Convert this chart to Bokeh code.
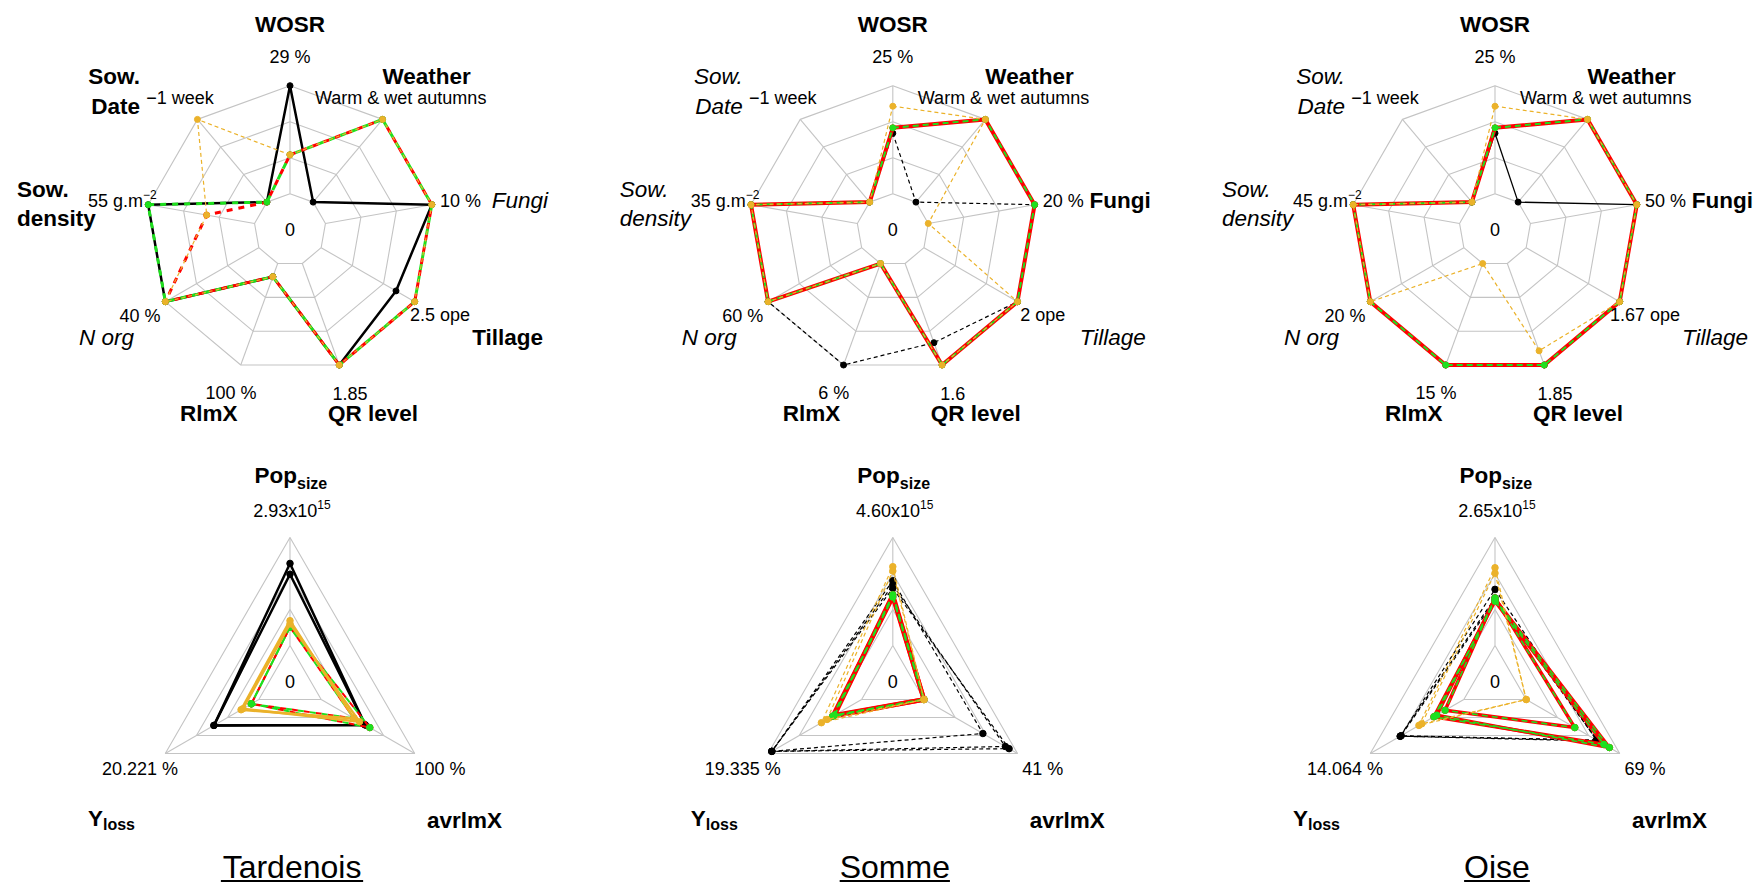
import math
from bokeh.plotting import figure
from bokeh.models import Range1d
from bokeh.core.properties import value
from bokeh.embed import file_html
from bokeh.resources import INLINE

# ---------------- DATA ----------------
regions = ["Tardenois", "Somme", "Oise"]

top_axes = [["WOSR"], ["Weather"], ["Fungi"], ["Tillage"], ["QR level"], ["RlmX"],
            ["N org"], ["Sow.", "density"], ["Sow.", "Date"]]

tard_top_max = ["29 %", "Warm & wet autumns", "10 %", "2.5 ope", "1.85", "100 %", "40 %", "55 g.m", "\u22121 week"]
somme_top_max = ["25 %", "Warm & wet autumns", "20 %", "2 ope", "1.6", "6 %", "60 %", "35 g.m", "\u22121 week"]
oise_top_max = ["25 %", "Warm & wet autumns", "50 %", "1.67 ope", "1.85", "15 %", "20 %", "45 g.m", "\u22121 week"]
density_exp = "\u22122"

tard_top_style = ["bold", "bold", "italic", "bold", "bold", "bold", "italic", "bold", "bold"]
somme_top_style = ["bold", "bold", "bold", "italic", "bold", "bold", "italic", "italic", "italic"]
oise_top_style = ["bold", "bold", "bold", "italic", "bold", "bold", "italic", "italic", "italic"]

# values as fraction of each axis maximum (0 = centre)
tard_top_black = [1.00, 0.00, 1.00, 0.80, 1.00, 0.13, 1.00, 1.00, 0.00]
tard_top_red = [0.36, 1.00, 1.00, 1.00, 1.00, 0.13, 1.00, 0.45, 0.00]
tard_top_green = [0.36, 1.00, 1.00, 1.00, 1.00, 0.13, 1.00, 1.00, 0.00]
tard_top_orange = [0.36, 1.00, 1.00, 1.00, 1.00, 0.13, 1.00, 0.45, 1.00]

somme_top_black = [0.56, 0.00, 1.00, 1.00, 0.78, 1.00, 1.00, 1.00, 0.00]
somme_top_red = [0.61, 1.00, 1.00, 1.00, 1.00, 0.00, 1.00, 1.00, 0.00]
somme_top_green = [0.61, 1.00, 1.00, 1.00, 1.00, 0.00, 1.00, 1.00, 0.00]
somme_top_orange = [0.81, 1.00, 0.00, 1.00, 1.00, 0.00, 1.00, 1.00, 0.00]

oise_top_black = [0.56, 0.00, 1.00, 1.00, 1.00, 1.00, 1.00, 1.00, 0.00]
oise_top_red = [0.61, 1.00, 1.00, 1.00, 1.00, 1.00, 1.00, 1.00, 0.00]
oise_top_green = [0.61, 1.00, 1.00, 1.00, 1.00, 1.00, 1.00, 1.00, 0.00]
oise_top_orange = [0.81, 1.00, 1.00, 1.00, 0.86, 0.00, 1.00, 1.00, 0.00]

# bottom radar: Pop_size, avrlmX, Y_loss
tard_pop_max, tard_avr_max, tard_yl_max = "2.93x10", "100 %", "20.221 %"
somme_pop_max, somme_avr_max, somme_yl_max = "4.60x10", "41 %", "19.335 %"
oise_pop_max, oise_avr_max, oise_yl_max = "2.65x10", "69 %", "14.064 %"
pop_exp = "15"

tard_bot_black = [[0.76, 0.47, 0.48], [0.66, 0.47, 0.48]]
tard_bot_red = [[0.17, 0.52, 0.08], [0.17, 0.35, 0.08]]
tard_bot_green = [[0.17, 0.52, 0.08], [0.17, 0.35, 0.08]]
tard_bot_orange = [[0.23, 0.35, 0.19], [0.20, 0.41, 0.17]]

somme_bot_black = [[0.60, 0.63, 0.96], [0.56, 0.87, 0.96], [0.53, 0.91, 0.96]]
somme_bot_red = [[0.47, 0.00, 0.29], [0.45, 0.00, 0.31]]
somme_bot_green = [[0.47, 0.00, 0.29], [0.45, 0.00, 0.31]]
somme_bot_orange = [[0.73, 0.00, 0.43], [0.69, 0.00, 0.37]]

oise_bot_black = [[0.52, 0.75, 0.68], [0.44, 0.77, 0.68], [0.42, 0.76, 0.67]]
oise_bot_red = [[0.44, 0.52, 0.20], [0.41, 0.83, 0.32], [0.43, 0.89, 0.29]]
oise_bot_green = [[0.44, 0.52, 0.20], [0.41, 0.83, 0.32], [0.43, 0.89, 0.29]]
oise_bot_orange = [[0.72, 0.00, 0.48], [0.67, 0.00, 0.45]]

# ---------------- LAYOUT / STYLE ----------------
FONT = "Liberation Sans"
GRID = "#C4C4C4"
BLACK, RED, GREEN, ORANGE = "#000000", "#FF0000", "#1EE01E", "#EBB22A"
CX = {"Tardenois": 289.5, "Somme": 892.3, "Oise": 1494.5}
CY_TOP, CY_BOT, R, HOLE = 229.2, 681.0, 144.0, 0.25

p = figure(width=1757, height=885, x_range=Range1d(0, 1757), y_range=Range1d(885, 0),
           output_backend="svg", toolbar_location=None, min_border=0,
           x_axis_type=None, y_axis_type=None)
p.grid.visible = False
p.outline_line_color = None


def txt(x, y, s, size=18, style="normal", align="center", baseline="middle"):
    p.text(x=[x], y=[y], text=[s], text_font=value(FONT), text_font_size=value(f"{size}px"),
           text_font_style=value(style), text_align=value(align),
           text_baseline=value(baseline), text_color="black")


def pt(cx, cy, k, n, frac):
    th = math.pi / 2 - 2 * math.pi * k / n
    return cx + R * frac * math.cos(th), cy - R * frac * math.sin(th)


def grid(cx, cy, n):
    for f in [0.25, 0.5, 0.75, 1.0]:
        pts = [pt(cx, cy, k, n, f) for k in range(n)]
        pts.append(pts[0])
        p.line([a for a, b in pts], [b for a, b in pts], line_color=GRID, line_width=1.1)
    inner = [pt(cx, cy, k, n, HOLE) for k in range(n)]
    outer = [pt(cx, cy, k, n, 1.0) for k in range(n)]
    p.segment([a for a, b in inner], [b for a, b in inner], [a for a, b in outer], [b for a, b in outer],
              line_color=GRID, line_width=1.1)


def series(cx, cy, vals, color, width, dash="solid", offset=0, psize=6):
    n = len(vals)
    pts = [pt(cx, cy, k, n, HOLE + (1 - HOLE) * v) for k, v in enumerate(vals)]
    xs = [a for a, b in pts]
    ys = [b for a, b in pts]
    p.line(xs + [xs[0]], ys + [ys[0]], line_color=color, line_width=width, line_dash=dash,
           line_dash_offset=offset, line_join="round")
    p.scatter(xs, ys, size=psize, fill_color=color, line_color=color)


top_data = {
    "Tardenois": (tard_top_black, tard_top_red, tard_top_green, tard_top_orange, tard_top_max, tard_top_style),
    "Somme": (somme_top_black, somme_top_red, somme_top_green, somme_top_orange, somme_top_max, somme_top_style),
    "Oise": (oise_top_black, oise_top_red, oise_top_green, oise_top_orange, oise_top_max, oise_top_style),
}
bot_data = {
    "Tardenois": (tard_bot_black, tard_bot_red, tard_bot_green, tard_bot_orange, tard_pop_max, tard_avr_max, tard_yl_max),
    "Somme": (somme_bot_black, somme_bot_red, somme_bot_green, somme_bot_orange, somme_pop_max, somme_avr_max, somme_yl_max),
    "Oise": (oise_bot_black, oise_bot_red, oise_bot_green, oise_bot_orange, oise_pop_max, oise_avr_max, oise_yl_max),
}

# styles: (color, width, dash, offset)
top_styles = {
    "Tardenois": [(BLACK, 2.5, "solid", 0), (RED, 3, "6 6", 0), (GREEN, 3, "6 6", 6), (ORANGE, 1.2, "4 3", 0)],
    "Somme": [(BLACK, 1.2, "4 3", 0), (RED, 4, "solid", 0), (GREEN, 2, "6 4", 0), (ORANGE, 1.2, "4 3", 0)],
    "Oise": [(BLACK, 1.3, "solid", 0), (RED, 4, "solid", 0), (GREEN, 2, "6 4", 0), (ORANGE, 1.2, "4 3", 0)],
}
bot_styles = {
    "Tardenois": [(BLACK, 2.5, "solid", 0), (RED, 2, "6 6", 0), (GREEN, 2, "6 6", 6), (ORANGE, 2.5, "solid", 0)],
    "Somme": [(BLACK, 1.2, "4 3", 0), (RED, 4.5, "solid", 0), (GREEN, 2, "6 4", 0), (ORANGE, 1.2, "4 3", 0)],
    "Oise": [(BLACK, 1.2, "4 3", 0), (RED, 3.5, "solid", 0), (GREEN, 1.6, "6 4", 0), (ORANGE, 1.2, "4 3", 0)],
}

# label anchors relative to centre
name_pos = [[(0, -205.2, "center")], [(92.5, -153.2, "left")], [(258, -29.2, "right")],
            [(253, 107.5, "right")], [(38, 184.1, "left")], [(-52.5, 184.1, "right")],
            [(-211, 108.1, "left")], [(-273, -39.9, "left"), (-273, -10.9, "left")],
            [(-150, -153.2, "right"), (-150, -123.2, "right")]]
max_pos = [(0, -172.5, "center"), (25, -131.9, "left"), (150, -29.2, "left"), (150, 85.1, "center"),
           (60, 163.5, "center"), (-59, 163.5, "center"), (-150, 86.1, "center"), (-147, -29.2, "right"),
           (-110, -131.9, "center")]

TITLE_W = {"T": .611, "a": .556, "r": .333, "d": .556, "e": .556, "n": .556, "o": .556, "i": .222,
           "s": .5, "S": .667, "m": .833, "O": .778}
TITLE_SIZE = 32

for reg in regions:
    cx = CX[reg]
    # ----- top radar -----
    black, red, green, orange, maxes, styles = top_data[reg]
    grid(cx, CY_TOP, 9)
    for vals, (c, w, d, o) in zip([black, red, green, orange], top_styles[reg]):
        series(cx, CY_TOP, vals, c, w, d, o)
    for k, lines in enumerate(top_axes):
        for line, (dx, dy, al) in zip(lines, name_pos[k]):
            txt(cx + dx, CY_TOP + dy, line, size=22.5, style=styles[k], align=al)
        dx, dy, al = max_pos[k]
        txt(cx + dx, CY_TOP + dy, maxes[k], size=18, align=al)
    txt(cx - 147, CY_TOP - 35.5, density_exp, size=12, align="left")
    txt(cx, CY_TOP, "0", size=18)

    # ----- bottom radar -----
    black, red, green, orange, popm, avrm, ylm = bot_data[reg]
    grid(cx, CY_BOT, 3)
    for group, (c, w, d, o) in zip([black, red, green, orange], bot_styles[reg]):
        for vals in group:
            series(cx, CY_BOT, vals, c, w, d, o, psize=6.5)
    txt(cx + 7, CY_BOT - 206, "Pop", size=22.5, style="bold", align="right")
    txt(cx + 7, CY_BOT - 198.5, "size", size=16, style="bold", align="left")
    txt(cx + 27.3, CY_BOT - 170.5, popm, size=18, align="right")
    txt(cx + 27.3, CY_BOT - 177, pop_exp, size=12, align="left")
    txt(cx - 150, CY_BOT + 87.3, ylm, size=18)
    txt(cx + 150, CY_BOT + 87.3, avrm, size=18)
    txt(cx - 202, CY_BOT + 137.3, "Y", size=22.5, style="bold", align="left")
    txt(cx - 187, CY_BOT + 142.5, "loss", size=16, style="bold", align="left")
    txt(cx + 212, CY_BOT + 139, "avrlmX", size=22.5, style="bold", align="right")
    txt(cx, CY_BOT, "0", size=18)

    # ----- title -----
    tx = cx + 2
    txt(tx, CY_BOT + 185.8, reg, size=TITLE_SIZE)
    tw = sum(TITLE_W.get(ch, 0.556) for ch in reg) * TITLE_SIZE
    p.segment([tx - tw / 2], [CY_BOT + 199.5], [tx + tw / 2], [CY_BOT + 199.5], line_color="black", line_width=2)

open("out.html", "w").write(file_html(p, INLINE))
